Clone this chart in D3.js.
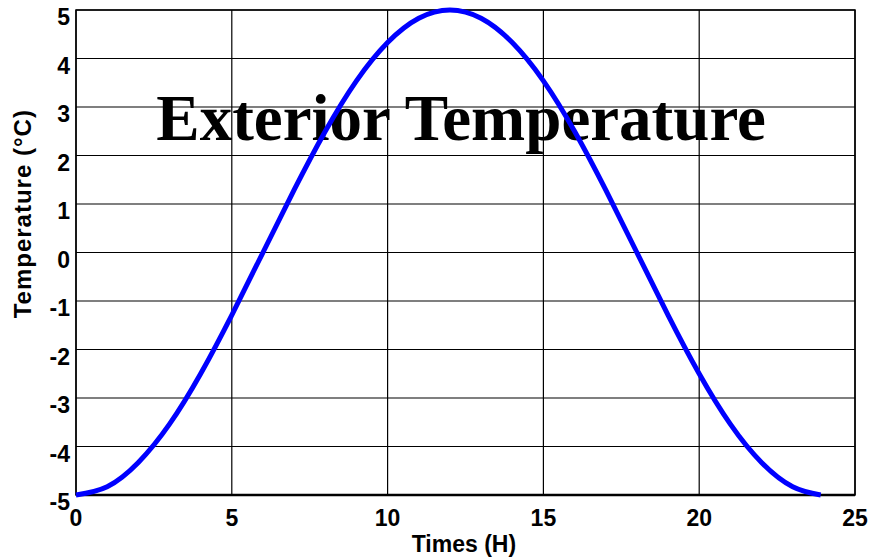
<!DOCTYPE html>
<html>
<head>
<meta charset="utf-8">
<script src="https://cdn.jsdelivr.net/npm/d3@7"></script>
<style>
  body { margin: 0; background: #fff; }
  text { font-family: Arial, "Liberation Sans", sans-serif; font-weight: bold; }
</style>
</head>
<body>
<div id="chart"></div>
<script>
// hours
var hours = [0, 1, 2, 3, 4, 5, 6, 7, 8, 9, 10, 11, 12, 13, 14, 15, 16, 17, 18, 19, 20, 21, 22, 23, 23.9];
// temperature (°C) at each hour
var temps = [-5, -4.83, -4.33, -3.54, -2.5, -1.29, 0, 1.29, 2.5, 3.54, 4.33, 4.83, 5,
             4.83, 4.33, 3.54, 2.5, 1.29, 0, -1.29, -2.5, -3.54, -4.33, -4.83, -5];
var xTicks = [0, 5, 10, 15, 20, 25];
var yTicks = [-5, -4, -3, -2, -1, 0, 1, 2, 3, 4, 5];
var title = "Exterior Temperature";

var margin = {top: 10, right: 18, bottom: 65, left: 76},
    width = 873 - margin.left - margin.right,
    height = 560 - margin.top - margin.bottom;

var svg = d3.select("#chart")
    .append("svg")
    .attr("width", 873)
    .attr("height", 560)
    .append("g")
    .attr("transform", "translate(" + margin.left + "," + margin.top + ")");

var x = d3.scaleLinear().domain([0, 25]).range([0, width]);
var y = d3.scaleLinear().domain([-5, 5]).range([height, 0]);

// grid
svg.selectAll(".vgrid")
    .data(xTicks).enter()
    .append("line")
    .attr("x1", function (d) { return x(d); })
    .attr("x2", function (d) { return x(d); })
    .attr("y1", 0).attr("y2", height)
    .style("stroke", "#000").style("stroke-width", 1.2);

svg.selectAll(".hgrid")
    .data(yTicks).enter()
    .append("line")
    .attr("x1", 0).attr("x2", width)
    .attr("y1", function (d) { return y(d); })
    .attr("y2", function (d) { return y(d); })
    .style("stroke", "#000").style("stroke-width", 1.2);

// box
svg.append("rect")
    .attr("width", width).attr("height", height)
    .style("fill", "none").style("stroke", "#000").style("stroke-width", 1.5);
svg.append("line")
    .attr("x1", 0).attr("x2", width).attr("y1", height).attr("y2", height)
    .style("stroke", "#000").style("stroke-width", 2.5);

// title sits inside the plot
svg.append("text")
    .attr("x", x(12.36))
    .attr("y", y(2.32))
    .attr("text-anchor", "middle")
    .style("font-family", "'Liberation Serif', 'Times New Roman', serif")
    .style("font-size", "65px")
    .text(title);

// the curve
var pts = hours.map(function (h, i) { return [h, temps[i]]; });
svg.append("path")
    .datum(pts)
    .attr("d", d3.line()
        .x(function (d) { return x(d[0]); })
        .y(function (d) { return y(d[1]); })
        .curve(d3.curveNatural))
    .style("fill", "none")
    .style("stroke", "#0000ff")
    .style("stroke-width", 5);

// tick labels
svg.selectAll(".ylab")
    .data(yTicks).enter()
    .append("text")
    .attr("x", -6)
    .attr("y", function (d) { return y(d) + 15; })
    .attr("text-anchor", "end")
    .style("font-size", "23px")
    .text(function (d) { return d; });

svg.selectAll(".xlab")
    .data(xTicks).enter()
    .append("text")
    .attr("x", function (d) { return x(d); })
    .attr("y", height + 31)
    .attr("text-anchor", "middle")
    .style("font-size", "23px")
    .text(function (d) { return d; });

// axis titles
svg.append("text")
    .attr("x", x(12.45))
    .attr("y", height + 57)
    .attr("text-anchor", "middle")
    .style("font-size", "23px")
    .text("Times (H)");

svg.append("text")
    .attr("transform", "translate(-45," + y(0.8) + ") rotate(-90)")
    .attr("text-anchor", "middle")
    .style("font-size", "24px")
    .style("letter-spacing", "1px")
    .text("Temperature (°C)");
</script>
</body>
</html>
